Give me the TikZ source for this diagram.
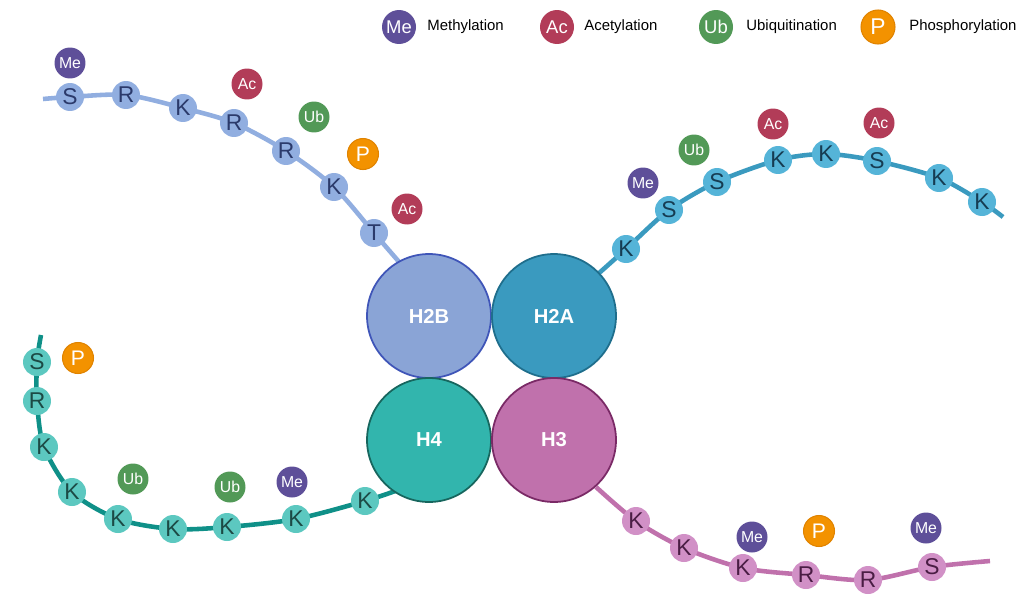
\documentclass[tikz,border=0pt]{standalone}
\usepackage{fontspec}
\setmainfont{Liberation Sans}
\usepackage{xcolor}
\usetikzlibrary{backgrounds}
\definecolor{mecol}{HTML}{5E4F99}
\definecolor{accol}{HTML}{B23C58}
\definecolor{ubcol}{HTML}{529957}
\definecolor{pcol}{HTML}{F39200}
\definecolor{pline}{HTML}{E08300}
\definecolor{hbfill}{HTML}{8AA4D6}
\definecolor{hbline}{HTML}{3F55B8}
\definecolor{hbres}{HTML}{91AEE0}
\definecolor{hbtxt}{HTML}{2B3A6B}
\definecolor{hafill}{HTML}{3A9ABF}
\definecolor{haline}{HTML}{1F6E8C}
\definecolor{hares}{HTML}{55B4D8}
\definecolor{hatxt}{HTML}{163C52}
\definecolor{hffill}{HTML}{32B5AD}
\definecolor{hfline}{HTML}{17665E}
\definecolor{hfres}{HTML}{5CC8C0}
\definecolor{hftail}{HTML}{0F9088}
\definecolor{hftxt}{HTML}{1C4A45}
\definecolor{htfill}{HTML}{C071AC}
\definecolor{htline}{HTML}{7A2A66}
\definecolor{htres}{HTML}{D190C6}
\definecolor{httxt}{HTML}{4A1D44}
\tikzset{
  histone/.style={circle,minimum size=2.48cm,inner sep=0pt,line width=1pt,text=white,
    font=\bfseries\fontsize{11.5}{12}\selectfont},
  res/.style={circle,minimum size=0.56cm,inner sep=0pt,font=\fontsize{13}{13}\selectfont},
  modif/.style={circle,minimum size=0.62cm,inner sep=0pt,text=white,font=\fontsize{9}{9}\selectfont},
  me/.style={modif,fill=mecol},
  ac/.style={modif,fill=accol},
  ub/.style={modif,fill=ubcol},
  ph/.style={modif,fill=pcol,draw=pline,line width=0.6pt,font=\fontsize{12}{12}\selectfont},
  keybox/.style={circle,minimum size=0.68cm,inner sep=0pt,text=white,font=\fontsize{10.5}{11}\selectfont},
  keytext/.style={anchor=west,inner sep=0pt,font=\fontsize{8.5}{9}\selectfont},
  tail/.style={line width=2.6pt,line cap=butt},
  hbr/.style={res,fill=hbres,text=hbtxt},
  har/.style={res,fill=hares,text=hatxt},
  hfr/.style={res,fill=hfres,text=hftxt},
  htr/.style={res,fill=htres,text=httxt}
}
\begin{document}
\begin{tikzpicture}[x=0.02cm,y=-0.02cm]
\useasboundingbox (0,0) rectangle (1027,595);
% legend
\node[keybox,fill=mecol] (kme) at (399,27) {Me};
\node[keytext] (tme) at (427,27) {Methylation};
\node[keybox,fill=accol] (kac) at (557,27) {Ac};
\node[keytext] (tac) at (584,27) {Acetylation};
\node[keybox,fill=ubcol] (kub) at (716,27) {Ub};
\node[keytext] (tub) at (746,27) {Ubiquitination};
\node[keybox,fill=pcol,draw=pline,line width=0.6pt,font=\fontsize{13}{13}\selectfont] (kph) at (878,27) {P};
\node[keytext] (tph) at (909,27) {Phosphorylation};

% core histones
\node[histone,fill=hbfill,draw=hbline] (h2b) at (429,316) {H2B};
\node[histone,fill=hafill,draw=haline] (h2a) at (554,316) {H2A};
\node[histone,fill=hffill,draw=hfline] (h4) at (429,440) {H4};
\node[histone,fill=htfill,draw=htline] (h3) at (554,440) {H3};

% H2B tail
\coordinate (b0) at (43,99);
\node[hbr] (b1) at (70,97) {S};
\node[hbr] (b2) at (126,95) {R};
\node[hbr] (b3) at (183,108) {K};
\node[hbr] (b4) at (234,123) {R};
\node[hbr] (b5) at (286,151) {R};
\node[hbr] (b6) at (334,187) {K};
\node[hbr] (b7) at (374,233) {T};
\coordinate (b8) at (400,263);
\node[me] (bme) at (70,63) {Me};
\node[ac] (bac1) at (247,84) {Ac};
\node[ub] (bub) at (314,117) {Ub};
\node[ph] (bph) at (363,154) {P};
\node[ac] (bac2) at (407,209) {Ac};

% H2A tail
\coordinate (a0) at (598,274);
\node[har] (a1) at (626,249) {K};
\node[har] (a2) at (669,210) {S};
\node[har] (a3) at (717,182) {S};
\node[har] (a4) at (778,160) {K};
\node[har] (a5) at (826,154) {K};
\node[har] (a6) at (877,161) {S};
\node[har] (a7) at (939,178) {K};
\node[har] (a8) at (982,202) {K};
\coordinate (a9) at (1003,217);
\node[me] (ame) at (643,183) {Me};
\node[ub] (aub) at (694,150) {Ub};
\node[ac] (aac1) at (773,124) {Ac};
\node[ac] (aac2) at (879,123) {Ac};

% H4 tail
\coordinate (f0) at (41,335);
\node[hfr] (f1) at (37,362) {S};
\node[hfr] (f2) at (37,401) {R};
\node[hfr] (f3) at (44,447) {K};
\node[hfr] (f4) at (72,492) {K};
\node[hfr] (f5) at (118,519) {K};
\node[hfr] (f6) at (173,529) {K};
\node[hfr] (f7) at (227,527) {K};
\node[hfr] (f8) at (296,519) {K};
\node[hfr] (f9) at (365,501) {K};
\coordinate (f10) at (398,490);
\node[ph] (fph) at (78,358) {P};
\node[ub] (fub1) at (133,479) {Ub};
\node[ub] (fub2) at (230,487) {Ub};
\node[me] (fme) at (292,482) {Me};

% H3 tail
\coordinate (t0) at (596,487);
\node[htr] (t1) at (636,521) {K};
\node[htr] (t2) at (684,548) {K};
\node[htr] (t3) at (743,568) {K};
\node[htr] (t4) at (806,575) {R};
\node[htr] (t5) at (868,580) {R};
\node[htr] (t6) at (932,567) {S};
\coordinate (t7) at (990,561);
\node[me] (tme1) at (752,537) {Me};
\node[ph] (tph1) at (819,531) {P};
\node[me] (tme2) at (926,528) {Me};

\begin{scope}[on background layer]
\draw[tail,hbres] plot[smooth,tension=0.5] coordinates {(b0) (b1) (b2) (b3) (b4) (b5) (b6) (b7) (b8)};
\draw[tail,hafill] plot[smooth,tension=0.5] coordinates {(a0) (a1) (a2) (a3) (a4) (a5) (a6) (a7) (a8) (a9)};
\draw[tail,hftail] plot[smooth,tension=0.5] coordinates {(f0) (f1) (f2) (f3) (f4) (f5) (f6) (f7) (f8) (f9) (f10)};
\draw[tail,htfill] plot[smooth,tension=0.5] coordinates {(t0) (t1) (t2) (t3) (t4) (t5) (t6) (t7)};
\end{scope}
\end{tikzpicture}
\end{document}
